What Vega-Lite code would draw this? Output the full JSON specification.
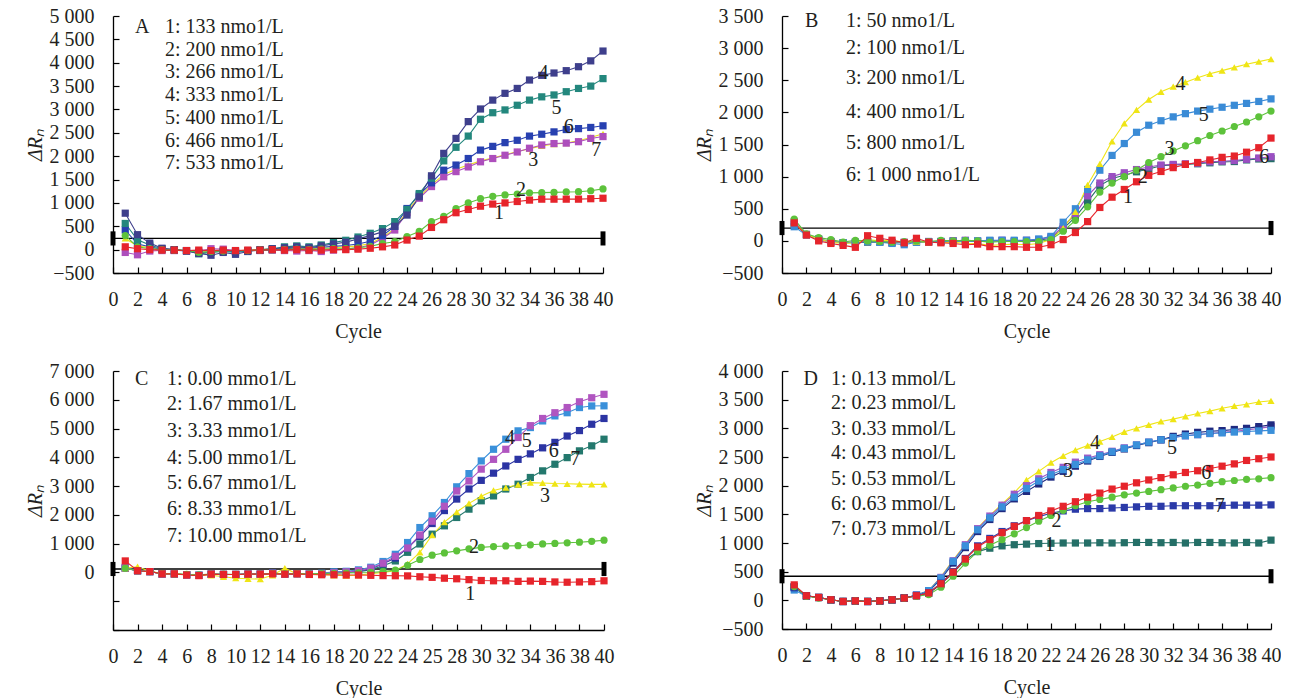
{
"$schema":"https://vega.github.io/schema/vega-lite/v6.json",
"background":"white",
"padding":{"left":25,"top":6,"right":0,"bottom":0},
"bounds":"flush",
"columns":2,
"spacing":{"row":98,"column":178},
"config":{"view":{"stroke":null},"font":"Liberation Serif",
"axis":{"labelFont":"Liberation Serif","titleFont":"Liberation Serif","labelFontSize":20,"titleFontSize":20,"labelColor":"#231f20","titleColor":"#231f20","titleFontWeight":"normal","domainColor":"#000","domainWidth":1.3,"tickColor":"#000","tickWidth":1.2,"tickSize":-6,"grid":false,"labelOverlap":false,"labelFlush":false,"labelBound":false},
"axisX":{"labelPadding":22,"titlePadding":12},
"axisY":{"labelPadding":25,"titlePadding":4,"titleFontStyle":"italic"}},
"datasets":{
"T":[{"p":"A","c":0,"v":240},{"p":"A","c":40,"v":240},{"p":"B","c":0,"v":200},{"p":"B","c":40,"v":200},{"p":"C","c":0,"v":120},{"p":"C","c":40,"v":120},{"p":"D","c":0,"v":420},{"p":"D","c":40,"v":420}],
"L":[
{"p":"A","c":1.8,"v":4763,"t":"A"},{"p":"A","c":4.24,"v":4763,"t":"1: 133 nmo1/L"},{"p":"A","c":4.24,"v":4277,"t":"2: 200 nmo1/L"},{"p":"A","c":4.24,"v":3791,"t":"3: 266 nmo1/L"},{"p":"A","c":4.24,"v":3305,"t":"4: 333 nmo1/L"},{"p":"A","c":4.24,"v":2820,"t":"5: 400 nmo1/L"},{"p":"A","c":4.24,"v":2334,"t":"6: 466 nmo1/L"},{"p":"A","c":4.24,"v":1848,"t":"7: 533 nmo1/L"},
{"p":"B","c":1.88,"v":3415,"t":"B"},{"p":"B","c":5.24,"v":3415,"t":"1: 50 nmo1/L"},{"p":"B","c":5.24,"v":2995,"t":"2: 100 nmo1/L"},{"p":"B","c":5.24,"v":2530,"t":"3: 200 nmo1/L"},{"p":"B","c":5.24,"v":2002,"t":"4: 400 nmo1/L"},{"p":"B","c":5.24,"v":1520,"t":"5: 800 nmo1/L"},{"p":"B","c":5.24,"v":1023,"t":"6: 1 000 nmo1/L"},
{"p":"C","c":1.8,"v":6713,"t":"C"},{"p":"C","c":4.4,"v":6713,"t":"1: 0.00 mmo1/L"},{"p":"C","c":4.4,"v":5845,"t":"2: 1.67 mmo1/L"},{"p":"C","c":4.4,"v":4918,"t":"3: 3.33 mmo1/L"},{"p":"C","c":4.4,"v":3992,"t":"4: 5.00 mmo1/L"},{"p":"C","c":4.4,"v":3124,"t":"5: 6.67 mmo1/L"},{"p":"C","c":4.4,"v":2200,"t":"6: 8.33 mmo1/L"},{"p":"C","c":4.4,"v":1274,"t":"7: 10.00 mmo1/L"},
{"p":"D","c":1.75,"v":3855,"t":"D"},{"p":"D","c":4.0,"v":3855,"t":"1: 0.13 mmol/L"},{"p":"D","c":4.0,"v":3436,"t":"2: 0.23 mmol/L"},{"p":"D","c":4.0,"v":2993,"t":"3: 0.33 mmol/L"},{"p":"D","c":4.0,"v":2562,"t":"4: 0.43 mmol/L"},{"p":"D","c":4.0,"v":2119,"t":"5: 0.53 mmol/L"},{"p":"D","c":4.0,"v":1688,"t":"6: 0.63 mmol/L"},{"p":"D","c":4.0,"v":1245,"t":"7: 0.73 mmol/L"}],
"N":[
{"p":"A","c":35.15,"v":3770,"t":"4"},{"p":"A","c":36.2,"v":3023,"t":"5"},{"p":"A","c":37.2,"v":2616,"t":"6"},{"p":"A","c":39.45,"v":2130,"t":"7"},{"p":"A","c":34.3,"v":1917,"t":"3"},{"p":"A","c":33.3,"v":1275,"t":"2"},{"p":"A","c":31.5,"v":775,"t":"1"},
{"p":"B","c":32.6,"v":2446,"t":"4"},{"p":"B","c":34.5,"v":1955,"t":"5"},{"p":"B","c":31.7,"v":1436,"t":"3"},{"p":"B","c":39.45,"v":1307,"t":"6"},{"p":"B","c":29.5,"v":997,"t":"2"},{"p":"B","c":28.3,"v":687,"t":"1"},
{"p":"C","c":32.35,"v":4686,"t":"4"},{"p":"C","c":33.7,"v":4570,"t":"5"},{"p":"C","c":35.9,"v":4222,"t":"6"},{"p":"C","c":37.65,"v":3935,"t":"7"},{"p":"C","c":35.2,"v":2661,"t":"3"},{"p":"C","c":29.4,"v":868,"t":"2"},{"p":"C","c":29.1,"v":-752,"t":"1"},
{"p":"D","c":25.6,"v":2748,"t":"4"},{"p":"D","c":23.4,"v":2253,"t":"3"},{"p":"D","c":31.9,"v":2660,"t":"5"},{"p":"D","c":34.7,"v":2224,"t":"6"},{"p":"D","c":22.45,"v":1380,"t":"2"},{"p":"D","c":35.8,"v":1642,"t":"7"},{"p":"D","c":21.9,"v":960,"t":"1"}],
"A":[
{"s":"A3","c":1,"v":240},{"s":"A3","c":2,"v":80},{"s":"A3","c":3,"v":40},{"s":"A3","c":4,"v":0},{"s":"A3","c":5,"v":-10},{"s":"A3","c":6,"v":-20},{"s":"A3","c":7,"v":-40},{"s":"A3","c":8,"v":-30},{"s":"A3","c":9,"v":-20},{"s":"A3","c":10,"v":-30},{"s":"A3","c":11,"v":-10},{"s":"A3","c":12,"v":0},{"s":"A3","c":13,"v":10},{"s":"A3","c":14,"v":20},{"s":"A3","c":15,"v":30},{"s":"A3","c":16,"v":20},{"s":"A3","c":17,"v":30},{"s":"A3","c":18,"v":40},{"s":"A3","c":19,"v":60},{"s":"A3","c":20,"v":80},{"s":"A3","c":21,"v":130},{"s":"A3","c":22,"v":260},{"s":"A3","c":23,"v":450},{"s":"A3","c":24,"v":820},{"s":"A3","c":25,"v":1130},{"s":"A3","c":26,"v":1380},{"s":"A3","c":27,"v":1610},{"s":"A3","c":28,"v":1720},{"s":"A3","c":29,"v":1810},{"s":"A3","c":30,"v":1900},{"s":"A3","c":31,"v":1960},{"s":"A3","c":32,"v":2030},{"s":"A3","c":33,"v":2100},{"s":"A3","c":34,"v":2160},{"s":"A3","c":35,"v":2220},{"s":"A3","c":36,"v":2260},{"s":"A3","c":37,"v":2280},{"s":"A3","c":38,"v":2330},{"s":"A3","c":39,"v":2400},{"s":"A3","c":40,"v":2480},
{"s":"A7","c":1,"v":-60},{"s":"A7","c":2,"v":-110},{"s":"A7","c":3,"v":-30},{"s":"A7","c":4,"v":-20},{"s":"A7","c":5,"v":-20},{"s":"A7","c":6,"v":-20},{"s":"A7","c":7,"v":-30},{"s":"A7","c":8,"v":20},{"s":"A7","c":9,"v":10},{"s":"A7","c":10,"v":-20},{"s":"A7","c":11,"v":-20},{"s":"A7","c":12,"v":-20},{"s":"A7","c":13,"v":-10},{"s":"A7","c":14,"v":-20},{"s":"A7","c":15,"v":-30},{"s":"A7","c":16,"v":-20},{"s":"A7","c":17,"v":-40},{"s":"A7","c":18,"v":-10},{"s":"A7","c":19,"v":10},{"s":"A7","c":20,"v":40},{"s":"A7","c":21,"v":100},{"s":"A7","c":22,"v":240},{"s":"A7","c":23,"v":420},{"s":"A7","c":24,"v":790},{"s":"A7","c":25,"v":1100},{"s":"A7","c":26,"v":1350},{"s":"A7","c":27,"v":1560},{"s":"A7","c":28,"v":1670},{"s":"A7","c":29,"v":1770},{"s":"A7","c":30,"v":1880},{"s":"A7","c":31,"v":1950},{"s":"A7","c":32,"v":2020},{"s":"A7","c":33,"v":2090},{"s":"A7","c":34,"v":2170},{"s":"A7","c":35,"v":2240},{"s":"A7","c":36,"v":2270},{"s":"A7","c":37,"v":2280},{"s":"A7","c":38,"v":2310},{"s":"A7","c":39,"v":2380},{"s":"A7","c":40,"v":2420},
{"s":"A6","c":1,"v":420},{"s":"A6","c":2,"v":120},{"s":"A6","c":3,"v":60},{"s":"A6","c":4,"v":10},{"s":"A6","c":5,"v":-10},{"s":"A6","c":6,"v":-30},{"s":"A6","c":7,"v":-60},{"s":"A6","c":8,"v":-50},{"s":"A6","c":9,"v":-30},{"s":"A6","c":10,"v":-40},{"s":"A6","c":11,"v":-20},{"s":"A6","c":12,"v":-10},{"s":"A6","c":13,"v":0},{"s":"A6","c":14,"v":20},{"s":"A6","c":15,"v":40},{"s":"A6","c":16,"v":30},{"s":"A6","c":17,"v":50},{"s":"A6","c":18,"v":70},{"s":"A6","c":19,"v":90},{"s":"A6","c":20,"v":120},{"s":"A6","c":21,"v":180},{"s":"A6","c":22,"v":300},{"s":"A6","c":23,"v":500},{"s":"A6","c":24,"v":880},{"s":"A6","c":25,"v":1170},{"s":"A6","c":26,"v":1430},{"s":"A6","c":27,"v":1700},{"s":"A6","c":28,"v":1810},{"s":"A6","c":29,"v":1950},{"s":"A6","c":30,"v":2130},{"s":"A6","c":31,"v":2210},{"s":"A6","c":32,"v":2290},{"s":"A6","c":33,"v":2340},{"s":"A6","c":34,"v":2430},{"s":"A6","c":35,"v":2470},{"s":"A6","c":36,"v":2520},{"s":"A6","c":37,"v":2570},{"s":"A6","c":38,"v":2590},{"s":"A6","c":39,"v":2615},{"s":"A6","c":40,"v":2650},
{"s":"A5","c":1,"v":560},{"s":"A5","c":2,"v":210},{"s":"A5","c":3,"v":100},{"s":"A5","c":4,"v":20},{"s":"A5","c":5,"v":0},{"s":"A5","c":6,"v":-20},{"s":"A5","c":7,"v":-90},{"s":"A5","c":8,"v":-60},{"s":"A5","c":9,"v":-40},{"s":"A5","c":10,"v":-60},{"s":"A5","c":11,"v":-30},{"s":"A5","c":12,"v":0},{"s":"A5","c":13,"v":20},{"s":"A5","c":14,"v":60},{"s":"A5","c":15,"v":80},{"s":"A5","c":16,"v":60},{"s":"A5","c":17,"v":100},{"s":"A5","c":18,"v":150},{"s":"A5","c":19,"v":200},{"s":"A5","c":20,"v":270},{"s":"A5","c":21,"v":350},{"s":"A5","c":22,"v":450},{"s":"A5","c":23,"v":600},{"s":"A5","c":24,"v":860},{"s":"A5","c":25,"v":1200},{"s":"A5","c":26,"v":1530},{"s":"A5","c":27,"v":1900},{"s":"A5","c":28,"v":2190},{"s":"A5","c":29,"v":2430},{"s":"A5","c":30,"v":2790},{"s":"A5","c":31,"v":2930},{"s":"A5","c":32,"v":2990},{"s":"A5","c":33,"v":3090},{"s":"A5","c":34,"v":3200},{"s":"A5","c":35,"v":3270},{"s":"A5","c":36,"v":3310},{"s":"A5","c":37,"v":3380},{"s":"A5","c":38,"v":3450},{"s":"A5","c":39,"v":3500},{"s":"A5","c":40,"v":3660},
{"s":"A4","c":1,"v":780},{"s":"A4","c":2,"v":320},{"s":"A4","c":3,"v":140},{"s":"A4","c":4,"v":30},{"s":"A4","c":5,"v":0},{"s":"A4","c":6,"v":-30},{"s":"A4","c":7,"v":-80},{"s":"A4","c":8,"v":-120},{"s":"A4","c":9,"v":-60},{"s":"A4","c":10,"v":-100},{"s":"A4","c":11,"v":-40},{"s":"A4","c":12,"v":-10},{"s":"A4","c":13,"v":20},{"s":"A4","c":14,"v":40},{"s":"A4","c":15,"v":60},{"s":"A4","c":16,"v":40},{"s":"A4","c":17,"v":80},{"s":"A4","c":18,"v":120},{"s":"A4","c":19,"v":160},{"s":"A4","c":20,"v":230},{"s":"A4","c":21,"v":300},{"s":"A4","c":22,"v":380},{"s":"A4","c":23,"v":500},{"s":"A4","c":24,"v":740},{"s":"A4","c":25,"v":1130},{"s":"A4","c":26,"v":1580},{"s":"A4","c":27,"v":2060},{"s":"A4","c":28,"v":2380},{"s":"A4","c":29,"v":2740},{"s":"A4","c":30,"v":3010},{"s":"A4","c":31,"v":3200},{"s":"A4","c":32,"v":3345},{"s":"A4","c":33,"v":3450},{"s":"A4","c":34,"v":3630},{"s":"A4","c":35,"v":3730},{"s":"A4","c":36,"v":3780},{"s":"A4","c":37,"v":3830},{"s":"A4","c":38,"v":3915},{"s":"A4","c":39,"v":4040},{"s":"A4","c":40,"v":4250},
{"s":"A2","c":1,"v":300},{"s":"A2","c":2,"v":60},{"s":"A2","c":3,"v":20},{"s":"A2","c":4,"v":0},{"s":"A2","c":5,"v":-10},{"s":"A2","c":6,"v":-20},{"s":"A2","c":7,"v":-60},{"s":"A2","c":8,"v":-40},{"s":"A2","c":9,"v":-30},{"s":"A2","c":10,"v":-20},{"s":"A2","c":11,"v":-20},{"s":"A2","c":12,"v":-10},{"s":"A2","c":13,"v":0},{"s":"A2","c":14,"v":0},{"s":"A2","c":15,"v":10},{"s":"A2","c":16,"v":0},{"s":"A2","c":17,"v":10},{"s":"A2","c":18,"v":20},{"s":"A2","c":19,"v":20},{"s":"A2","c":20,"v":40},{"s":"A2","c":21,"v":70},{"s":"A2","c":22,"v":130},{"s":"A2","c":23,"v":170},{"s":"A2","c":24,"v":280},{"s":"A2","c":25,"v":390},{"s":"A2","c":26,"v":600},{"s":"A2","c":27,"v":710},{"s":"A2","c":28,"v":880},{"s":"A2","c":29,"v":1000},{"s":"A2","c":30,"v":1090},{"s":"A2","c":31,"v":1140},{"s":"A2","c":32,"v":1170},{"s":"A2","c":33,"v":1190},{"s":"A2","c":34,"v":1215},{"s":"A2","c":35,"v":1220},{"s":"A2","c":36,"v":1225},{"s":"A2","c":37,"v":1235},{"s":"A2","c":38,"v":1240},{"s":"A2","c":39,"v":1260},{"s":"A2","c":40,"v":1300},
{"s":"A1","c":1,"v":60},{"s":"A1","c":2,"v":20},{"s":"A1","c":3,"v":0},{"s":"A1","c":4,"v":-10},{"s":"A1","c":5,"v":-10},{"s":"A1","c":6,"v":-20},{"s":"A1","c":7,"v":-10},{"s":"A1","c":8,"v":-20},{"s":"A1","c":9,"v":-10},{"s":"A1","c":10,"v":-20},{"s":"A1","c":11,"v":-10},{"s":"A1","c":12,"v":-10},{"s":"A1","c":13,"v":0},{"s":"A1","c":14,"v":-10},{"s":"A1","c":15,"v":0},{"s":"A1","c":16,"v":-10},{"s":"A1","c":17,"v":-10},{"s":"A1","c":18,"v":0},{"s":"A1","c":19,"v":0},{"s":"A1","c":20,"v":10},{"s":"A1","c":21,"v":30},{"s":"A1","c":22,"v":60},{"s":"A1","c":23,"v":100},{"s":"A1","c":24,"v":205},{"s":"A1","c":25,"v":290},{"s":"A1","c":26,"v":475},{"s":"A1","c":27,"v":640},{"s":"A1","c":28,"v":790},{"s":"A1","c":29,"v":860},{"s":"A1","c":30,"v":930},{"s":"A1","c":31,"v":975},{"s":"A1","c":32,"v":1000},{"s":"A1","c":33,"v":1030},{"s":"A1","c":34,"v":1060},{"s":"A1","c":35,"v":1080},{"s":"A1","c":36,"v":1080},{"s":"A1","c":37,"v":1080},{"s":"A1","c":38,"v":1080},{"s":"A1","c":39,"v":1090},{"s":"A1","c":40,"v":1100}],
"B":[
{"s":"B6","c":1,"v":260},{"s":"B6","c":2,"v":100},{"s":"B6","c":3,"v":30},{"s":"B6","c":4,"v":-10},{"s":"B6","c":5,"v":-30},{"s":"B6","c":6,"v":-30},{"s":"B6","c":7,"v":-20},{"s":"B6","c":8,"v":-20},{"s":"B6","c":9,"v":-30},{"s":"B6","c":10,"v":-30},{"s":"B6","c":11,"v":-20},{"s":"B6","c":12,"v":-20},{"s":"B6","c":13,"v":-10},{"s":"B6","c":14,"v":0},{"s":"B6","c":15,"v":0},{"s":"B6","c":16,"v":-10},{"s":"B6","c":17,"v":0},{"s":"B6","c":18,"v":0},{"s":"B6","c":19,"v":-10},{"s":"B6","c":20,"v":0},{"s":"B6","c":21,"v":10},{"s":"B6","c":22,"v":40},{"s":"B6","c":23,"v":190},{"s":"B6","c":24,"v":370},{"s":"B6","c":25,"v":610},{"s":"B6","c":26,"v":860},{"s":"B6","c":27,"v":970},{"s":"B6","c":28,"v":1020},{"s":"B6","c":29,"v":1075},{"s":"B6","c":30,"v":1120},{"s":"B6","c":31,"v":1170},{"s":"B6","c":32,"v":1180},{"s":"B6","c":33,"v":1190},{"s":"B6","c":34,"v":1200},{"s":"B6","c":35,"v":1215},{"s":"B6","c":36,"v":1230},{"s":"B6","c":37,"v":1235},{"s":"B6","c":38,"v":1260},{"s":"B6","c":39,"v":1275},{"s":"B6","c":40,"v":1280},
{"s":"B2","c":1,"v":300},{"s":"B2","c":2,"v":100},{"s":"B2","c":3,"v":20},{"s":"B2","c":4,"v":-10},{"s":"B2","c":5,"v":-30},{"s":"B2","c":6,"v":-20},{"s":"B2","c":7,"v":-10},{"s":"B2","c":8,"v":-10},{"s":"B2","c":9,"v":-20},{"s":"B2","c":10,"v":-20},{"s":"B2","c":11,"v":-10},{"s":"B2","c":12,"v":-10},{"s":"B2","c":13,"v":-10},{"s":"B2","c":14,"v":0},{"s":"B2","c":15,"v":10},{"s":"B2","c":16,"v":0},{"s":"B2","c":17,"v":0},{"s":"B2","c":18,"v":10},{"s":"B2","c":19,"v":0},{"s":"B2","c":20,"v":10},{"s":"B2","c":21,"v":20},{"s":"B2","c":22,"v":60},{"s":"B2","c":23,"v":220},{"s":"B2","c":24,"v":420},{"s":"B2","c":25,"v":700},{"s":"B2","c":26,"v":900},{"s":"B2","c":27,"v":1000},{"s":"B2","c":28,"v":1060},{"s":"B2","c":29,"v":1110},{"s":"B2","c":30,"v":1150},{"s":"B2","c":31,"v":1180},{"s":"B2","c":32,"v":1190},{"s":"B2","c":33,"v":1200},{"s":"B2","c":34,"v":1210},{"s":"B2","c":35,"v":1230},{"s":"B2","c":36,"v":1240},{"s":"B2","c":37,"v":1250},{"s":"B2","c":38,"v":1270},{"s":"B2","c":39,"v":1290},{"s":"B2","c":40,"v":1310},
{"s":"B5","c":1,"v":220},{"s":"B5","c":2,"v":90},{"s":"B5","c":3,"v":20},{"s":"B5","c":4,"v":-20},{"s":"B5","c":5,"v":-30},{"s":"B5","c":6,"v":-20},{"s":"B5","c":7,"v":-10},{"s":"B5","c":8,"v":-20},{"s":"B5","c":9,"v":-40},{"s":"B5","c":10,"v":-60},{"s":"B5","c":11,"v":-20},{"s":"B5","c":12,"v":-10},{"s":"B5","c":13,"v":-10},{"s":"B5","c":14,"v":-10},{"s":"B5","c":15,"v":0},{"s":"B5","c":16,"v":0},{"s":"B5","c":17,"v":10},{"s":"B5","c":18,"v":10},{"s":"B5","c":19,"v":10},{"s":"B5","c":20,"v":10},{"s":"B5","c":21,"v":30},{"s":"B5","c":22,"v":70},{"s":"B5","c":23,"v":290},{"s":"B5","c":24,"v":500},{"s":"B5","c":25,"v":800},{"s":"B5","c":26,"v":1100},{"s":"B5","c":27,"v":1330},{"s":"B5","c":28,"v":1515},{"s":"B5","c":29,"v":1690},{"s":"B5","c":30,"v":1800},{"s":"B5","c":31,"v":1870},{"s":"B5","c":32,"v":1930},{"s":"B5","c":33,"v":1980},{"s":"B5","c":34,"v":2020},{"s":"B5","c":35,"v":2050},{"s":"B5","c":36,"v":2080},{"s":"B5","c":37,"v":2110},{"s":"B5","c":38,"v":2140},{"s":"B5","c":39,"v":2170},{"s":"B5","c":40,"v":2210},
{"s":"B4","c":1,"v":280},{"s":"B4","c":2,"v":100},{"s":"B4","c":3,"v":30},{"s":"B4","c":4,"v":-20},{"s":"B4","c":5,"v":-40},{"s":"B4","c":6,"v":-30},{"s":"B4","c":7,"v":20},{"s":"B4","c":8,"v":0},{"s":"B4","c":9,"v":10},{"s":"B4","c":10,"v":-20},{"s":"B4","c":11,"v":-10},{"s":"B4","c":12,"v":-20},{"s":"B4","c":13,"v":-30},{"s":"B4","c":14,"v":-20},{"s":"B4","c":15,"v":-40},{"s":"B4","c":16,"v":-40},{"s":"B4","c":17,"v":-70},{"s":"B4","c":18,"v":-60},{"s":"B4","c":19,"v":-50},{"s":"B4","c":20,"v":-60},{"s":"B4","c":21,"v":-40},{"s":"B4","c":22,"v":20},{"s":"B4","c":23,"v":200},{"s":"B4","c":24,"v":450},{"s":"B4","c":25,"v":870},{"s":"B4","c":26,"v":1200},{"s":"B4","c":27,"v":1550},{"s":"B4","c":28,"v":1830},{"s":"B4","c":29,"v":2040},{"s":"B4","c":30,"v":2200},{"s":"B4","c":31,"v":2320},{"s":"B4","c":32,"v":2400},{"s":"B4","c":33,"v":2470},{"s":"B4","c":34,"v":2540},{"s":"B4","c":35,"v":2600},{"s":"B4","c":36,"v":2650},{"s":"B4","c":37,"v":2700},{"s":"B4","c":38,"v":2750},{"s":"B4","c":39,"v":2790},{"s":"B4","c":40,"v":2830},
{"s":"B3","c":1,"v":340},{"s":"B3","c":2,"v":110},{"s":"B3","c":3,"v":50},{"s":"B3","c":4,"v":20},{"s":"B3","c":5,"v":-20},{"s":"B3","c":6,"v":10},{"s":"B3","c":7,"v":0},{"s":"B3","c":8,"v":-10},{"s":"B3","c":9,"v":-20},{"s":"B3","c":10,"v":-10},{"s":"B3","c":11,"v":0},{"s":"B3","c":12,"v":-10},{"s":"B3","c":13,"v":10},{"s":"B3","c":14,"v":0},{"s":"B3","c":15,"v":10},{"s":"B3","c":16,"v":0},{"s":"B3","c":17,"v":-20},{"s":"B3","c":18,"v":-10},{"s":"B3","c":19,"v":-10},{"s":"B3","c":20,"v":-10},{"s":"B3","c":21,"v":-10},{"s":"B3","c":22,"v":20},{"s":"B3","c":23,"v":150},{"s":"B3","c":24,"v":320},{"s":"B3","c":25,"v":530},{"s":"B3","c":26,"v":760},{"s":"B3","c":27,"v":900},{"s":"B3","c":28,"v":1000},{"s":"B3","c":29,"v":1100},{"s":"B3","c":30,"v":1220},{"s":"B3","c":31,"v":1310},{"s":"B3","c":32,"v":1400},{"s":"B3","c":33,"v":1480},{"s":"B3","c":34,"v":1560},{"s":"B3","c":35,"v":1640},{"s":"B3","c":36,"v":1710},{"s":"B3","c":37,"v":1780},{"s":"B3","c":38,"v":1850},{"s":"B3","c":39,"v":1930},{"s":"B3","c":40,"v":2020},
{"s":"B1","c":1,"v":280},{"s":"B1","c":2,"v":90},{"s":"B1","c":3,"v":0},{"s":"B1","c":4,"v":-40},{"s":"B1","c":5,"v":-70},{"s":"B1","c":6,"v":-100},{"s":"B1","c":7,"v":80},{"s":"B1","c":8,"v":40},{"s":"B1","c":9,"v":10},{"s":"B1","c":10,"v":-30},{"s":"B1","c":11,"v":40},{"s":"B1","c":12,"v":-20},{"s":"B1","c":13,"v":-30},{"s":"B1","c":14,"v":-40},{"s":"B1","c":15,"v":-60},{"s":"B1","c":16,"v":-50},{"s":"B1","c":17,"v":-90},{"s":"B1","c":18,"v":-90},{"s":"B1","c":19,"v":-90},{"s":"B1","c":20,"v":-100},{"s":"B1","c":21,"v":-100},{"s":"B1","c":22,"v":-60},{"s":"B1","c":23,"v":20},{"s":"B1","c":24,"v":130},{"s":"B1","c":25,"v":300},{"s":"B1","c":26,"v":520},{"s":"B1","c":27,"v":680},{"s":"B1","c":28,"v":800},{"s":"B1","c":29,"v":920},{"s":"B1","c":30,"v":1020},{"s":"B1","c":31,"v":1080},{"s":"B1","c":32,"v":1140},{"s":"B1","c":33,"v":1190},{"s":"B1","c":34,"v":1220},{"s":"B1","c":35,"v":1260},{"s":"B1","c":36,"v":1300},{"s":"B1","c":37,"v":1320},{"s":"B1","c":38,"v":1380},{"s":"B1","c":39,"v":1450},{"s":"B1","c":40,"v":1600}],
"C":[
{"s":"C7","c":1,"v":150},{"s":"C7","c":2,"v":60},{"s":"C7","c":3,"v":30},{"s":"C7","c":4,"v":-50},{"s":"C7","c":5,"v":-50},{"s":"C7","c":6,"v":-80},{"s":"C7","c":7,"v":-100},{"s":"C7","c":8,"v":-60},{"s":"C7","c":9,"v":-70},{"s":"C7","c":10,"v":-70},{"s":"C7","c":11,"v":-60},{"s":"C7","c":12,"v":-60},{"s":"C7","c":13,"v":-30},{"s":"C7","c":14,"v":-50},{"s":"C7","c":15,"v":-40},{"s":"C7","c":16,"v":-50},{"s":"C7","c":17,"v":-40},{"s":"C7","c":18,"v":-10},{"s":"C7","c":19,"v":0},{"s":"C7","c":20,"v":30},{"s":"C7","c":21,"v":90},{"s":"C7","c":22,"v":230},{"s":"C7","c":23,"v":400},{"s":"C7","c":24,"v":700},{"s":"C7","c":25,"v":990},{"s":"C7","c":26,"v":1330},{"s":"C7","c":27,"v":1620},{"s":"C7","c":28,"v":1910},{"s":"C7","c":29,"v":2200},{"s":"C7","c":30,"v":2490},{"s":"C7","c":31,"v":2660},{"s":"C7","c":32,"v":2900},{"s":"C7","c":33,"v":3065},{"s":"C7","c":34,"v":3300},{"s":"C7","c":35,"v":3530},{"s":"C7","c":36,"v":3760},{"s":"C7","c":37,"v":3990},{"s":"C7","c":38,"v":4225},{"s":"C7","c":39,"v":4400},{"s":"C7","c":40,"v":4630},
{"s":"C6","c":1,"v":150},{"s":"C6","c":2,"v":60},{"s":"C6","c":3,"v":30},{"s":"C6","c":4,"v":-50},{"s":"C6","c":5,"v":-50},{"s":"C6","c":6,"v":-80},{"s":"C6","c":7,"v":-100},{"s":"C6","c":8,"v":-60},{"s":"C6","c":9,"v":-70},{"s":"C6","c":10,"v":-70},{"s":"C6","c":11,"v":-60},{"s":"C6","c":12,"v":-60},{"s":"C6","c":13,"v":-30},{"s":"C6","c":14,"v":-50},{"s":"C6","c":15,"v":-40},{"s":"C6","c":16,"v":-50},{"s":"C6","c":17,"v":-40},{"s":"C6","c":18,"v":0},{"s":"C6","c":19,"v":20},{"s":"C6","c":20,"v":50},{"s":"C6","c":21,"v":120},{"s":"C6","c":22,"v":300},{"s":"C6","c":23,"v":500},{"s":"C6","c":24,"v":850},{"s":"C6","c":25,"v":1250},{"s":"C6","c":26,"v":1700},{"s":"C6","c":27,"v":2150},{"s":"C6","c":28,"v":2550},{"s":"C6","c":29,"v":2900},{"s":"C6","c":30,"v":3200},{"s":"C6","c":31,"v":3450},{"s":"C6","c":32,"v":3700},{"s":"C6","c":33,"v":3930},{"s":"C6","c":34,"v":4120},{"s":"C6","c":35,"v":4330},{"s":"C6","c":36,"v":4520},{"s":"C6","c":37,"v":4740},{"s":"C6","c":38,"v":4930},{"s":"C6","c":39,"v":5150},{"s":"C6","c":40,"v":5350},
{"s":"C5","c":1,"v":180},{"s":"C5","c":2,"v":60},{"s":"C5","c":3,"v":30},{"s":"C5","c":4,"v":-50},{"s":"C5","c":5,"v":-50},{"s":"C5","c":6,"v":-80},{"s":"C5","c":7,"v":-100},{"s":"C5","c":8,"v":-60},{"s":"C5","c":9,"v":-70},{"s":"C5","c":10,"v":-70},{"s":"C5","c":11,"v":-60},{"s":"C5","c":12,"v":-60},{"s":"C5","c":13,"v":-30},{"s":"C5","c":14,"v":-50},{"s":"C5","c":15,"v":-40},{"s":"C5","c":16,"v":-40},{"s":"C5","c":17,"v":-30},{"s":"C5","c":18,"v":20},{"s":"C5","c":19,"v":40},{"s":"C5","c":20,"v":90},{"s":"C5","c":21,"v":180},{"s":"C5","c":22,"v":380},{"s":"C5","c":23,"v":630},{"s":"C5","c":24,"v":1040},{"s":"C5","c":25,"v":1560},{"s":"C5","c":26,"v":1970},{"s":"C5","c":27,"v":2430},{"s":"C5","c":28,"v":2975},{"s":"C5","c":29,"v":3435},{"s":"C5","c":30,"v":3875},{"s":"C5","c":31,"v":4280},{"s":"C5","c":32,"v":4630},{"s":"C5","c":33,"v":4920},{"s":"C5","c":34,"v":5035},{"s":"C5","c":35,"v":5265},{"s":"C5","c":36,"v":5440},{"s":"C5","c":37,"v":5550},{"s":"C5","c":38,"v":5730},{"s":"C5","c":39,"v":5785},{"s":"C5","c":40,"v":5790},
{"s":"C4","c":1,"v":150},{"s":"C4","c":2,"v":60},{"s":"C4","c":3,"v":30},{"s":"C4","c":4,"v":-50},{"s":"C4","c":5,"v":-50},{"s":"C4","c":6,"v":-80},{"s":"C4","c":7,"v":-100},{"s":"C4","c":8,"v":-60},{"s":"C4","c":9,"v":-70},{"s":"C4","c":10,"v":-70},{"s":"C4","c":11,"v":-60},{"s":"C4","c":12,"v":-60},{"s":"C4","c":13,"v":-30},{"s":"C4","c":14,"v":-50},{"s":"C4","c":15,"v":-40},{"s":"C4","c":16,"v":-50},{"s":"C4","c":17,"v":-40},{"s":"C4","c":18,"v":-10},{"s":"C4","c":19,"v":20},{"s":"C4","c":20,"v":60},{"s":"C4","c":21,"v":150},{"s":"C4","c":22,"v":320},{"s":"C4","c":23,"v":560},{"s":"C4","c":24,"v":850},{"s":"C4","c":25,"v":1300},{"s":"C4","c":26,"v":1780},{"s":"C4","c":27,"v":2300},{"s":"C4","c":28,"v":2830},{"s":"C4","c":29,"v":3180},{"s":"C4","c":30,"v":3590},{"s":"C4","c":31,"v":3930},{"s":"C4","c":32,"v":4280},{"s":"C4","c":33,"v":4690},{"s":"C4","c":34,"v":5100},{"s":"C4","c":35,"v":5350},{"s":"C4","c":36,"v":5550},{"s":"C4","c":37,"v":5730},{"s":"C4","c":38,"v":5930},{"s":"C4","c":39,"v":6070},{"s":"C4","c":40,"v":6190},
{"s":"C3","c":1,"v":150},{"s":"C3","c":2,"v":200},{"s":"C3","c":3,"v":40},{"s":"C3","c":4,"v":-40},{"s":"C3","c":5,"v":-40},{"s":"C3","c":6,"v":-80},{"s":"C3","c":7,"v":-90},{"s":"C3","c":8,"v":-100},{"s":"C3","c":9,"v":-150},{"s":"C3","c":10,"v":-200},{"s":"C3","c":11,"v":-220},{"s":"C3","c":12,"v":-230},{"s":"C3","c":13,"v":-100},{"s":"C3","c":14,"v":150},{"s":"C3","c":15,"v":-50},{"s":"C3","c":16,"v":-60},{"s":"C3","c":17,"v":-80},{"s":"C3","c":18,"v":-100},{"s":"C3","c":19,"v":-110},{"s":"C3","c":20,"v":-100},{"s":"C3","c":21,"v":-40},{"s":"C3","c":22,"v":0},{"s":"C3","c":23,"v":60},{"s":"C3","c":24,"v":300},{"s":"C3","c":25,"v":700},{"s":"C3","c":26,"v":1300},{"s":"C3","c":27,"v":1750},{"s":"C3","c":28,"v":2100},{"s":"C3","c":29,"v":2400},{"s":"C3","c":30,"v":2650},{"s":"C3","c":31,"v":2850},{"s":"C3","c":32,"v":2950},{"s":"C3","c":33,"v":3050},{"s":"C3","c":34,"v":3120},{"s":"C3","c":35,"v":3110},{"s":"C3","c":36,"v":3090},{"s":"C3","c":37,"v":3080},{"s":"C3","c":38,"v":3070},{"s":"C3","c":39,"v":3060},{"s":"C3","c":40,"v":3060},
{"s":"C2","c":1,"v":150},{"s":"C2","c":2,"v":60},{"s":"C2","c":3,"v":30},{"s":"C2","c":4,"v":-40},{"s":"C2","c":5,"v":-50},{"s":"C2","c":6,"v":-70},{"s":"C2","c":7,"v":-80},{"s":"C2","c":8,"v":-60},{"s":"C2","c":9,"v":-60},{"s":"C2","c":10,"v":-70},{"s":"C2","c":11,"v":-60},{"s":"C2","c":12,"v":-60},{"s":"C2","c":13,"v":-40},{"s":"C2","c":14,"v":-40},{"s":"C2","c":15,"v":-40},{"s":"C2","c":16,"v":-50},{"s":"C2","c":17,"v":-40},{"s":"C2","c":18,"v":-30},{"s":"C2","c":19,"v":-20},{"s":"C2","c":20,"v":-10},{"s":"C2","c":21,"v":0},{"s":"C2","c":22,"v":30},{"s":"C2","c":23,"v":80},{"s":"C2","c":24,"v":250},{"s":"C2","c":25,"v":450},{"s":"C2","c":26,"v":600},{"s":"C2","c":27,"v":680},{"s":"C2","c":28,"v":750},{"s":"C2","c":29,"v":820},{"s":"C2","c":30,"v":870},{"s":"C2","c":31,"v":900},{"s":"C2","c":32,"v":920},{"s":"C2","c":33,"v":930},{"s":"C2","c":34,"v":960},{"s":"C2","c":35,"v":990},{"s":"C2","c":36,"v":1010},{"s":"C2","c":37,"v":1030},{"s":"C2","c":38,"v":1050},{"s":"C2","c":39,"v":1080},{"s":"C2","c":40,"v":1120},
{"s":"C1","c":1,"v":400},{"s":"C1","c":2,"v":60},{"s":"C1","c":3,"v":30},{"s":"C1","c":4,"v":-50},{"s":"C1","c":5,"v":-50},{"s":"C1","c":6,"v":-90},{"s":"C1","c":7,"v":-110},{"s":"C1","c":8,"v":-60},{"s":"C1","c":9,"v":-70},{"s":"C1","c":10,"v":-70},{"s":"C1","c":11,"v":-60},{"s":"C1","c":12,"v":-60},{"s":"C1","c":13,"v":-50},{"s":"C1","c":14,"v":-60},{"s":"C1","c":15,"v":-50},{"s":"C1","c":16,"v":-70},{"s":"C1","c":17,"v":-80},{"s":"C1","c":18,"v":-80},{"s":"C1","c":19,"v":-90},{"s":"C1","c":20,"v":-90},{"s":"C1","c":21,"v":-100},{"s":"C1","c":22,"v":-110},{"s":"C1","c":23,"v":-115},{"s":"C1","c":24,"v":-120},{"s":"C1","c":25,"v":-150},{"s":"C1","c":26,"v":-170},{"s":"C1","c":27,"v":-200},{"s":"C1","c":28,"v":-220},{"s":"C1","c":29,"v":-250},{"s":"C1","c":30,"v":-280},{"s":"C1","c":31,"v":-290},{"s":"C1","c":32,"v":-290},{"s":"C1","c":33,"v":-310},{"s":"C1","c":34,"v":-300},{"s":"C1","c":35,"v":-310},{"s":"C1","c":36,"v":-330},{"s":"C1","c":37,"v":-340},{"s":"C1","c":38,"v":-330},{"s":"C1","c":39,"v":-320},{"s":"C1","c":40,"v":-290}],
"D":[
{"s":"D4","c":1,"v":240},{"s":"D4","c":2,"v":80},{"s":"D4","c":3,"v":50},{"s":"D4","c":4,"v":10},{"s":"D4","c":5,"v":-20},{"s":"D4","c":6,"v":-10},{"s":"D4","c":7,"v":-20},{"s":"D4","c":8,"v":-10},{"s":"D4","c":9,"v":10},{"s":"D4","c":10,"v":40},{"s":"D4","c":11,"v":90},{"s":"D4","c":12,"v":170},{"s":"D4","c":13,"v":410},{"s":"D4","c":14,"v":700},{"s":"D4","c":15,"v":980},{"s":"D4","c":16,"v":1260},{"s":"D4","c":17,"v":1480},{"s":"D4","c":18,"v":1680},{"s":"D4","c":19,"v":1880},{"s":"D4","c":20,"v":2100},{"s":"D4","c":21,"v":2250},{"s":"D4","c":22,"v":2400},{"s":"D4","c":23,"v":2520},{"s":"D4","c":24,"v":2620},{"s":"D4","c":25,"v":2700},{"s":"D4","c":26,"v":2770},{"s":"D4","c":27,"v":2850},{"s":"D4","c":28,"v":2940},{"s":"D4","c":29,"v":3000},{"s":"D4","c":30,"v":3060},{"s":"D4","c":31,"v":3120},{"s":"D4","c":32,"v":3160},{"s":"D4","c":33,"v":3210},{"s":"D4","c":34,"v":3260},{"s":"D4","c":35,"v":3300},{"s":"D4","c":36,"v":3350},{"s":"D4","c":37,"v":3390},{"s":"D4","c":38,"v":3420},{"s":"D4","c":39,"v":3460},{"s":"D4","c":40,"v":3480},
{"s":"D8","c":1,"v":240},{"s":"D8","c":2,"v":80},{"s":"D8","c":3,"v":50},{"s":"D8","c":4,"v":10},{"s":"D8","c":5,"v":-20},{"s":"D8","c":6,"v":-10},{"s":"D8","c":7,"v":-20},{"s":"D8","c":8,"v":-10},{"s":"D8","c":9,"v":10},{"s":"D8","c":10,"v":40},{"s":"D8","c":11,"v":90},{"s":"D8","c":12,"v":170},{"s":"D8","c":13,"v":400},{"s":"D8","c":14,"v":690},{"s":"D8","c":15,"v":970},{"s":"D8","c":16,"v":1250},{"s":"D8","c":17,"v":1470},{"s":"D8","c":18,"v":1660},{"s":"D8","c":19,"v":1850},{"s":"D8","c":20,"v":2000},{"s":"D8","c":21,"v":2120},{"s":"D8","c":22,"v":2230},{"s":"D8","c":23,"v":2320},{"s":"D8","c":24,"v":2410},{"s":"D8","c":25,"v":2480},{"s":"D8","c":26,"v":2540},{"s":"D8","c":27,"v":2600},{"s":"D8","c":28,"v":2660},{"s":"D8","c":29,"v":2710},{"s":"D8","c":30,"v":2760},{"s":"D8","c":31,"v":2800},{"s":"D8","c":32,"v":2840},{"s":"D8","c":33,"v":2870},{"s":"D8","c":34,"v":2890},{"s":"D8","c":35,"v":2910},{"s":"D8","c":36,"v":2930},{"s":"D8","c":37,"v":2950},{"s":"D8","c":38,"v":2970},{"s":"D8","c":39,"v":3000},{"s":"D8","c":40,"v":3030},
{"s":"D3","c":1,"v":230},{"s":"D3","c":2,"v":80},{"s":"D3","c":3,"v":50},{"s":"D3","c":4,"v":10},{"s":"D3","c":5,"v":-20},{"s":"D3","c":6,"v":-10},{"s":"D3","c":7,"v":-20},{"s":"D3","c":8,"v":-10},{"s":"D3","c":9,"v":10},{"s":"D3","c":10,"v":40},{"s":"D3","c":11,"v":90},{"s":"D3","c":12,"v":160},{"s":"D3","c":13,"v":370},{"s":"D3","c":14,"v":650},{"s":"D3","c":15,"v":920},{"s":"D3","c":16,"v":1200},{"s":"D3","c":17,"v":1410},{"s":"D3","c":18,"v":1600},{"s":"D3","c":19,"v":1770},{"s":"D3","c":20,"v":1900},{"s":"D3","c":21,"v":2030},{"s":"D3","c":22,"v":2150},{"s":"D3","c":23,"v":2250},{"s":"D3","c":24,"v":2340},{"s":"D3","c":25,"v":2430},{"s":"D3","c":26,"v":2510},{"s":"D3","c":27,"v":2580},{"s":"D3","c":28,"v":2640},{"s":"D3","c":29,"v":2700},{"s":"D3","c":30,"v":2750},{"s":"D3","c":31,"v":2800},{"s":"D3","c":32,"v":2860},{"s":"D3","c":33,"v":2900},{"s":"D3","c":34,"v":2930},{"s":"D3","c":35,"v":2950},{"s":"D3","c":36,"v":2960},{"s":"D3","c":37,"v":2980},{"s":"D3","c":38,"v":3000},{"s":"D3","c":39,"v":3030},{"s":"D3","c":40,"v":3060},
{"s":"D5","c":1,"v":180},{"s":"D5","c":2,"v":70},{"s":"D5","c":3,"v":50},{"s":"D5","c":4,"v":10},{"s":"D5","c":5,"v":-20},{"s":"D5","c":6,"v":-10},{"s":"D5","c":7,"v":-20},{"s":"D5","c":8,"v":-10},{"s":"D5","c":9,"v":10},{"s":"D5","c":10,"v":40},{"s":"D5","c":11,"v":90},{"s":"D5","c":12,"v":170},{"s":"D5","c":13,"v":390},{"s":"D5","c":14,"v":680},{"s":"D5","c":15,"v":950},{"s":"D5","c":16,"v":1230},{"s":"D5","c":17,"v":1440},{"s":"D5","c":18,"v":1630},{"s":"D5","c":19,"v":1800},{"s":"D5","c":20,"v":1950},{"s":"D5","c":21,"v":2080},{"s":"D5","c":22,"v":2190},{"s":"D5","c":23,"v":2280},{"s":"D5","c":24,"v":2370},{"s":"D5","c":25,"v":2450},{"s":"D5","c":26,"v":2520},{"s":"D5","c":27,"v":2590},{"s":"D5","c":28,"v":2650},{"s":"D5","c":29,"v":2710},{"s":"D5","c":30,"v":2760},{"s":"D5","c":31,"v":2800},{"s":"D5","c":32,"v":2840},{"s":"D5","c":33,"v":2870},{"s":"D5","c":34,"v":2890},{"s":"D5","c":35,"v":2910},{"s":"D5","c":36,"v":2920},{"s":"D5","c":37,"v":2935},{"s":"D5","c":38,"v":2945},{"s":"D5","c":39,"v":2955},{"s":"D5","c":40,"v":2965},
{"s":"D1","c":1,"v":240},{"s":"D1","c":2,"v":80},{"s":"D1","c":3,"v":50},{"s":"D1","c":4,"v":10},{"s":"D1","c":5,"v":-20},{"s":"D1","c":6,"v":-10},{"s":"D1","c":7,"v":-20},{"s":"D1","c":8,"v":-10},{"s":"D1","c":9,"v":10},{"s":"D1","c":10,"v":40},{"s":"D1","c":11,"v":80},{"s":"D1","c":12,"v":120},{"s":"D1","c":13,"v":280},{"s":"D1","c":14,"v":480},{"s":"D1","c":15,"v":700},{"s":"D1","c":16,"v":850},{"s":"D1","c":17,"v":910},{"s":"D1","c":18,"v":950},{"s":"D1","c":19,"v":970},{"s":"D1","c":20,"v":980},{"s":"D1","c":21,"v":990},{"s":"D1","c":22,"v":995},{"s":"D1","c":23,"v":1000},{"s":"D1","c":24,"v":1000},{"s":"D1","c":25,"v":1000},{"s":"D1","c":26,"v":1005},{"s":"D1","c":27,"v":1000},{"s":"D1","c":28,"v":1005},{"s":"D1","c":29,"v":1010},{"s":"D1","c":30,"v":1010},{"s":"D1","c":31,"v":1005},{"s":"D1","c":32,"v":1010},{"s":"D1","c":33,"v":1000},{"s":"D1","c":34,"v":1010},{"s":"D1","c":35,"v":1010},{"s":"D1","c":36,"v":1005},{"s":"D1","c":37,"v":1000},{"s":"D1","c":38,"v":1010},{"s":"D1","c":39,"v":1000},{"s":"D1","c":40,"v":1050},
{"s":"D7","c":1,"v":220},{"s":"D7","c":2,"v":80},{"s":"D7","c":3,"v":50},{"s":"D7","c":4,"v":10},{"s":"D7","c":5,"v":-20},{"s":"D7","c":6,"v":-10},{"s":"D7","c":7,"v":-20},{"s":"D7","c":8,"v":-10},{"s":"D7","c":9,"v":10},{"s":"D7","c":10,"v":40},{"s":"D7","c":11,"v":80},{"s":"D7","c":12,"v":130},{"s":"D7","c":13,"v":300},{"s":"D7","c":14,"v":500},{"s":"D7","c":15,"v":730},{"s":"D7","c":16,"v":950},{"s":"D7","c":17,"v":1080},{"s":"D7","c":18,"v":1200},{"s":"D7","c":19,"v":1300},{"s":"D7","c":20,"v":1390},{"s":"D7","c":21,"v":1460},{"s":"D7","c":22,"v":1520},{"s":"D7","c":23,"v":1560},{"s":"D7","c":24,"v":1590},{"s":"D7","c":25,"v":1600},{"s":"D7","c":26,"v":1600},{"s":"D7","c":27,"v":1610},{"s":"D7","c":28,"v":1620},{"s":"D7","c":29,"v":1630},{"s":"D7","c":30,"v":1640},{"s":"D7","c":31,"v":1640},{"s":"D7","c":32,"v":1650},{"s":"D7","c":33,"v":1650},{"s":"D7","c":34,"v":1650},{"s":"D7","c":35,"v":1650},{"s":"D7","c":36,"v":1655},{"s":"D7","c":37,"v":1660},{"s":"D7","c":38,"v":1660},{"s":"D7","c":39,"v":1660},{"s":"D7","c":40,"v":1665},
{"s":"D2","c":1,"v":240},{"s":"D2","c":2,"v":70},{"s":"D2","c":3,"v":40},{"s":"D2","c":4,"v":10},{"s":"D2","c":5,"v":-20},{"s":"D2","c":6,"v":-10},{"s":"D2","c":7,"v":-20},{"s":"D2","c":8,"v":-10},{"s":"D2","c":9,"v":10},{"s":"D2","c":10,"v":40},{"s":"D2","c":11,"v":70},{"s":"D2","c":12,"v":100},{"s":"D2","c":13,"v":230},{"s":"D2","c":14,"v":420},{"s":"D2","c":15,"v":650},{"s":"D2","c":16,"v":850},{"s":"D2","c":17,"v":960},{"s":"D2","c":18,"v":1060},{"s":"D2","c":19,"v":1160},{"s":"D2","c":20,"v":1270},{"s":"D2","c":21,"v":1380},{"s":"D2","c":22,"v":1480},{"s":"D2","c":23,"v":1570},{"s":"D2","c":24,"v":1650},{"s":"D2","c":25,"v":1720},{"s":"D2","c":26,"v":1760},{"s":"D2","c":27,"v":1800},{"s":"D2","c":28,"v":1840},{"s":"D2","c":29,"v":1870},{"s":"D2","c":30,"v":1900},{"s":"D2","c":31,"v":1930},{"s":"D2","c":32,"v":1960},{"s":"D2","c":33,"v":1990},{"s":"D2","c":34,"v":2010},{"s":"D2","c":35,"v":2040},{"s":"D2","c":36,"v":2070},{"s":"D2","c":37,"v":2090},{"s":"D2","c":38,"v":2110},{"s":"D2","c":39,"v":2120},{"s":"D2","c":40,"v":2140},
{"s":"D6","c":1,"v":270},{"s":"D6","c":2,"v":80},{"s":"D6","c":3,"v":50},{"s":"D6","c":4,"v":10},{"s":"D6","c":5,"v":-20},{"s":"D6","c":6,"v":-10},{"s":"D6","c":7,"v":-20},{"s":"D6","c":8,"v":-10},{"s":"D6","c":9,"v":10},{"s":"D6","c":10,"v":40},{"s":"D6","c":11,"v":80},{"s":"D6","c":12,"v":130},{"s":"D6","c":13,"v":290},{"s":"D6","c":14,"v":490},{"s":"D6","c":15,"v":720},{"s":"D6","c":16,"v":930},{"s":"D6","c":17,"v":1060},{"s":"D6","c":18,"v":1180},{"s":"D6","c":19,"v":1290},{"s":"D6","c":20,"v":1390},{"s":"D6","c":21,"v":1480},{"s":"D6","c":22,"v":1560},{"s":"D6","c":23,"v":1640},{"s":"D6","c":24,"v":1720},{"s":"D6","c":25,"v":1800},{"s":"D6","c":26,"v":1870},{"s":"D6","c":27,"v":1940},{"s":"D6","c":28,"v":1990},{"s":"D6","c":29,"v":2050},{"s":"D6","c":30,"v":2100},{"s":"D6","c":31,"v":2140},{"s":"D6","c":32,"v":2190},{"s":"D6","c":33,"v":2230},{"s":"D6","c":34,"v":2260},{"s":"D6","c":35,"v":2300},{"s":"D6","c":36,"v":2340},{"s":"D6","c":37,"v":2380},{"s":"D6","c":38,"v":2440},{"s":"D6","c":39,"v":2470},{"s":"D6","c":40,"v":2500}]
},
"concat":[
{"width":490,"height":257,
"encoding":{"x":{"field":"c","type":"quantitative","scale":{"domain":[0,40],"nice":false},"axis":{"values":[0,2,4,6,8,10,12,14,16,18,20,22,24,26,28,30,32,34,36,38,40],"title":"Cycle"}},
"y":{"field":"v","type":"quantitative","scale":{"domain":[-500,5000],"nice":false},"axis":{"values":[-500,0,500,1000,1500,2000,2500,3000,3500,4000,4500,5000],"title":"ΔRₙ","labelExpr":"replace(format(datum.value,','),',',' ')"}}},
"layer":[
{"data":{"name":"T"},"transform":[{"filter":"datum.p=='A'"}],"mark":{"type":"line","color":"#000","strokeWidth":1.3}},
{"data":{"name":"T"},"transform":[{"filter":"datum.p=='A'"}],"mark":{"type":"point","shape":"M-0.35,-1H0.35V1H-0.35Z","filled":true,"color":"#000","size":200,"opacity":1}},
{"data":{"name":"A"},"mark":{"type":"line","strokeWidth":1.1},"encoding":{"color":{"field":"s","type":"nominal","legend":null,"scale":{"domain":["A1","A2","A3","A4","A5","A6","A7","B1","B2","B3","B4","B5","B6","C1","C2","C3","C4","C5","C6","C7","D1","D2","D3","D4","D5","D6","D7","D8"],"range":["#e6242b","#5dc23b","#e8e21a","#3e3f8c","#23877d","#2740b0","#ad4ebc","#e6242b","#9b4fc2","#5dc23b","#efe515","#3a8bd6","#246f67","#e6242b","#5dc23b","#efe515","#b055c0","#3a90da","#2b34a3","#23786d","#246f67","#5dc23b","#1f2a80","#efe515","#3a90da","#e6242b","#2b3aa8","#9b5bc8"]}}}},
{"data":{"name":"A"},"mark":{"type":"point","filled":true,"opacity":1,"size":52},"encoding":{"color":{"field":"s","type":"nominal","legend":null,"scale":{"domain":["A1","A2","A3","A4","A5","A6","A7","B1","B2","B3","B4","B5","B6","C1","C2","C3","C4","C5","C6","C7","D1","D2","D3","D4","D5","D6","D7","D8"],"range":["#e6242b","#5dc23b","#e8e21a","#3e3f8c","#23877d","#2740b0","#ad4ebc","#e6242b","#9b4fc2","#5dc23b","#efe515","#3a8bd6","#246f67","#e6242b","#5dc23b","#efe515","#b055c0","#3a90da","#2b34a3","#23786d","#246f67","#5dc23b","#1f2a80","#efe515","#3a90da","#e6242b","#2b3aa8","#9b5bc8"]}},"shape":{"field":"s","type":"nominal","legend":null,"scale":{"domain":["A1","A2","A3","A4","A5","A6","A7","B1","B2","B3","B4","B5","B6","C1","C2","C3","C4","C5","C6","C7","D1","D2","D3","D4","D5","D6","D7","D8"],"range":["square","circle","triangle-up","square","square","square","square","square","square","circle","triangle-up","square","square","square","circle","triangle-up","square","square","square","square","square","circle","square","triangle-up","square","square","square","square"]}}}},
{"data":{"name":"L"},"transform":[{"filter":"datum.p=='A'"}],"mark":{"type":"text","align":"left","baseline":"middle","font":"Liberation Serif","fontSize":20,"color":"#231f20"},"encoding":{"text":{"field":"t"}}},
{"data":{"name":"N"},"transform":[{"filter":"datum.p=='A'"}],"mark":{"type":"text","align":"center","baseline":"middle","font":"Liberation Serif","fontSize":20,"color":"#231f20"},"encoding":{"text":{"field":"t"}}}
]},
{"width":489,"height":257,
"encoding":{"x":{"field":"c","type":"quantitative","scale":{"domain":[0,40],"nice":false},"axis":{"values":[0,2,4,6,8,10,12,14,16,18,20,22,24,26,28,30,32,34,36,38,40],"title":"Cycle"}},
"y":{"field":"v","type":"quantitative","scale":{"domain":[-500,3500],"nice":false},"axis":{"values":[-500,0,500,1000,1500,2000,2500,3000,3500],"title":"ΔRₙ","labelExpr":"replace(format(datum.value,','),',',' ')"}}},
"layer":[
{"data":{"name":"T"},"transform":[{"filter":"datum.p=='B'"}],"mark":{"type":"line","color":"#000","strokeWidth":1.3}},
{"data":{"name":"T"},"transform":[{"filter":"datum.p=='B'"}],"mark":{"type":"point","shape":"M-0.35,-1H0.35V1H-0.35Z","filled":true,"color":"#000","size":200,"opacity":1}},
{"data":{"name":"B"},"mark":{"type":"line","strokeWidth":1.1},"encoding":{"color":{"field":"s","type":"nominal","legend":null,"scale":{"domain":["A1","A2","A3","A4","A5","A6","A7","B1","B2","B3","B4","B5","B6","C1","C2","C3","C4","C5","C6","C7","D1","D2","D3","D4","D5","D6","D7","D8"],"range":["#e6242b","#5dc23b","#e8e21a","#3e3f8c","#23877d","#2740b0","#ad4ebc","#e6242b","#9b4fc2","#5dc23b","#efe515","#3a8bd6","#246f67","#e6242b","#5dc23b","#efe515","#b055c0","#3a90da","#2b34a3","#23786d","#246f67","#5dc23b","#1f2a80","#efe515","#3a90da","#e6242b","#2b3aa8","#9b5bc8"]}}}},
{"data":{"name":"B"},"mark":{"type":"point","filled":true,"opacity":1,"size":52},"encoding":{"color":{"field":"s","type":"nominal","legend":null,"scale":{"domain":["A1","A2","A3","A4","A5","A6","A7","B1","B2","B3","B4","B5","B6","C1","C2","C3","C4","C5","C6","C7","D1","D2","D3","D4","D5","D6","D7","D8"],"range":["#e6242b","#5dc23b","#e8e21a","#3e3f8c","#23877d","#2740b0","#ad4ebc","#e6242b","#9b4fc2","#5dc23b","#efe515","#3a8bd6","#246f67","#e6242b","#5dc23b","#efe515","#b055c0","#3a90da","#2b34a3","#23786d","#246f67","#5dc23b","#1f2a80","#efe515","#3a90da","#e6242b","#2b3aa8","#9b5bc8"]}},"shape":{"field":"s","type":"nominal","legend":null,"scale":{"domain":["A1","A2","A3","A4","A5","A6","A7","B1","B2","B3","B4","B5","B6","C1","C2","C3","C4","C5","C6","C7","D1","D2","D3","D4","D5","D6","D7","D8"],"range":["square","circle","triangle-up","square","square","square","square","square","square","circle","triangle-up","square","square","square","circle","triangle-up","square","square","square","square","square","circle","square","triangle-up","square","square","square","square"]}}}},
{"data":{"name":"L"},"transform":[{"filter":"datum.p=='B'"}],"mark":{"type":"text","align":"left","baseline":"middle","font":"Liberation Serif","fontSize":20,"color":"#231f20"},"encoding":{"text":{"field":"t"}}},
{"data":{"name":"N"},"transform":[{"filter":"datum.p=='B'"}],"mark":{"type":"text","align":"center","baseline":"middle","font":"Liberation Serif","fontSize":20,"color":"#231f20"},"encoding":{"text":{"field":"t"}}}
]},
{"width":491,"height":259,
"encoding":{"x":{"field":"c","type":"quantitative","scale":{"domain":[0,40],"nice":false},"axis":{"values":[0,2,4,6,8,10,12,14,16,18,20,22,24,26,28,30,32,34,36,38,40],"title":"Cycle","labelExpr":"datum.value==26?'25':datum.label"}},
"y":{"field":"v","type":"quantitative","scale":{"domain":[-2000,7000],"nice":false},"axis":{"values":[-2000,-1000,0,1000,2000,3000,4000,5000,6000,7000],"title":"ΔRₙ","labelExpr":"datum.value<0?'':replace(format(datum.value,','),',',' ')"}}},
"layer":[
{"data":{"name":"T"},"transform":[{"filter":"datum.p=='C'"}],"mark":{"type":"line","color":"#000","strokeWidth":1.3}},
{"data":{"name":"T"},"transform":[{"filter":"datum.p=='C'"}],"mark":{"type":"point","shape":"M-0.35,-1H0.35V1H-0.35Z","filled":true,"color":"#000","size":200,"opacity":1}},
{"data":{"name":"C"},"mark":{"type":"line","strokeWidth":1.1},"encoding":{"color":{"field":"s","type":"nominal","legend":null,"scale":{"domain":["A1","A2","A3","A4","A5","A6","A7","B1","B2","B3","B4","B5","B6","C1","C2","C3","C4","C5","C6","C7","D1","D2","D3","D4","D5","D6","D7","D8"],"range":["#e6242b","#5dc23b","#e8e21a","#3e3f8c","#23877d","#2740b0","#ad4ebc","#e6242b","#9b4fc2","#5dc23b","#efe515","#3a8bd6","#246f67","#e6242b","#5dc23b","#efe515","#b055c0","#3a90da","#2b34a3","#23786d","#246f67","#5dc23b","#1f2a80","#efe515","#3a90da","#e6242b","#2b3aa8","#9b5bc8"]}}}},
{"data":{"name":"C"},"mark":{"type":"point","filled":true,"opacity":1,"size":52},"encoding":{"color":{"field":"s","type":"nominal","legend":null,"scale":{"domain":["A1","A2","A3","A4","A5","A6","A7","B1","B2","B3","B4","B5","B6","C1","C2","C3","C4","C5","C6","C7","D1","D2","D3","D4","D5","D6","D7","D8"],"range":["#e6242b","#5dc23b","#e8e21a","#3e3f8c","#23877d","#2740b0","#ad4ebc","#e6242b","#9b4fc2","#5dc23b","#efe515","#3a8bd6","#246f67","#e6242b","#5dc23b","#efe515","#b055c0","#3a90da","#2b34a3","#23786d","#246f67","#5dc23b","#1f2a80","#efe515","#3a90da","#e6242b","#2b3aa8","#9b5bc8"]}},"shape":{"field":"s","type":"nominal","legend":null,"scale":{"domain":["A1","A2","A3","A4","A5","A6","A7","B1","B2","B3","B4","B5","B6","C1","C2","C3","C4","C5","C6","C7","D1","D2","D3","D4","D5","D6","D7","D8"],"range":["square","circle","triangle-up","square","square","square","square","square","square","circle","triangle-up","square","square","square","circle","triangle-up","square","square","square","square","square","circle","square","triangle-up","square","square","square","square"]}}}},
{"data":{"name":"L"},"transform":[{"filter":"datum.p=='C'"}],"mark":{"type":"text","align":"left","baseline":"middle","font":"Liberation Serif","fontSize":20,"color":"#231f20"},"encoding":{"text":{"field":"t"}}},
{"data":{"name":"N"},"transform":[{"filter":"datum.p=='C'"}],"mark":{"type":"text","align":"center","baseline":"middle","font":"Liberation Serif","fontSize":20,"color":"#231f20"},"encoding":{"text":{"field":"t"}}}
]},
{"width":489,"height":258,
"encoding":{"x":{"field":"c","type":"quantitative","scale":{"domain":[0,40],"nice":false},"axis":{"values":[0,2,4,6,8,10,12,14,16,18,20,22,24,26,28,30,32,34,36,38,40],"title":"Cycle"}},
"y":{"field":"v","type":"quantitative","scale":{"domain":[-500,4000],"nice":false},"axis":{"values":[-500,0,500,1000,1500,2000,2500,3000,3500,4000],"title":"ΔRₙ","labelExpr":"replace(format(datum.value,','),',',' ')"}}},
"layer":[
{"data":{"name":"T"},"transform":[{"filter":"datum.p=='D'"}],"mark":{"type":"line","color":"#000","strokeWidth":1.3}},
{"data":{"name":"T"},"transform":[{"filter":"datum.p=='D'"}],"mark":{"type":"point","shape":"M-0.35,-1H0.35V1H-0.35Z","filled":true,"color":"#000","size":200,"opacity":1}},
{"data":{"name":"D"},"mark":{"type":"line","strokeWidth":1.1},"encoding":{"color":{"field":"s","type":"nominal","legend":null,"scale":{"domain":["A1","A2","A3","A4","A5","A6","A7","B1","B2","B3","B4","B5","B6","C1","C2","C3","C4","C5","C6","C7","D1","D2","D3","D4","D5","D6","D7","D8"],"range":["#e6242b","#5dc23b","#e8e21a","#3e3f8c","#23877d","#2740b0","#ad4ebc","#e6242b","#9b4fc2","#5dc23b","#efe515","#3a8bd6","#246f67","#e6242b","#5dc23b","#efe515","#b055c0","#3a90da","#2b34a3","#23786d","#246f67","#5dc23b","#1f2a80","#efe515","#3a90da","#e6242b","#2b3aa8","#9b5bc8"]}}}},
{"data":{"name":"D"},"mark":{"type":"point","filled":true,"opacity":1,"size":52},"encoding":{"color":{"field":"s","type":"nominal","legend":null,"scale":{"domain":["A1","A2","A3","A4","A5","A6","A7","B1","B2","B3","B4","B5","B6","C1","C2","C3","C4","C5","C6","C7","D1","D2","D3","D4","D5","D6","D7","D8"],"range":["#e6242b","#5dc23b","#e8e21a","#3e3f8c","#23877d","#2740b0","#ad4ebc","#e6242b","#9b4fc2","#5dc23b","#efe515","#3a8bd6","#246f67","#e6242b","#5dc23b","#efe515","#b055c0","#3a90da","#2b34a3","#23786d","#246f67","#5dc23b","#1f2a80","#efe515","#3a90da","#e6242b","#2b3aa8","#9b5bc8"]}},"shape":{"field":"s","type":"nominal","legend":null,"scale":{"domain":["A1","A2","A3","A4","A5","A6","A7","B1","B2","B3","B4","B5","B6","C1","C2","C3","C4","C5","C6","C7","D1","D2","D3","D4","D5","D6","D7","D8"],"range":["square","circle","triangle-up","square","square","square","square","square","square","circle","triangle-up","square","square","square","circle","triangle-up","square","square","square","square","square","circle","square","triangle-up","square","square","square","square"]}}}},
{"data":{"name":"L"},"transform":[{"filter":"datum.p=='D'"}],"mark":{"type":"text","align":"left","baseline":"middle","font":"Liberation Serif","fontSize":20,"color":"#231f20"},"encoding":{"text":{"field":"t"}}},
{"data":{"name":"N"},"transform":[{"filter":"datum.p=='D'"}],"mark":{"type":"text","align":"center","baseline":"middle","font":"Liberation Serif","fontSize":20,"color":"#231f20"},"encoding":{"text":{"field":"t"}}}
]}
]
}
